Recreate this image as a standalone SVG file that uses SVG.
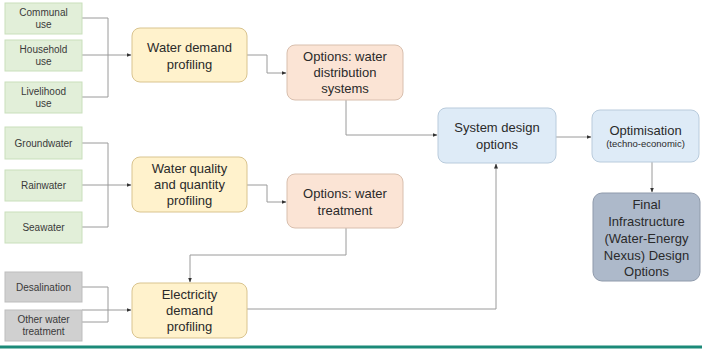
<svg xmlns="http://www.w3.org/2000/svg" width="702" height="350" viewBox="0 0 702 350">
<defs>
<marker id="arr" viewBox="0 0 10 10" refX="9" refY="5" markerWidth="5" markerHeight="5" markerUnits="userSpaceOnUse" orient="auto">
<path d="M0,1 L10,5 L0,9 Z" fill="#333"/>
</marker>
</defs>
<style>
.src{fill:#e2efd9;stroke:#c9dfbb;stroke-width:1}
.gry{fill:#d0d0d0;stroke:#bdbdbd;stroke-width:1}
.yel{fill:#fff2cc;stroke:#d9c48f;stroke-width:1}
.pch{fill:#fbe4d5;stroke:#d8bfae;stroke-width:1}
.blu{fill:#deebf7;stroke:#b9cbdc;stroke-width:1}
.fin{fill:#adb9ca;stroke:#8f9aab;stroke-width:1}
.s{font-family:"Liberation Sans",Arial,sans-serif;font-size:10px;fill:#3a3a3a;text-anchor:middle}
.m{font-family:"Liberation Sans",Arial,sans-serif;font-size:13px;fill:#2a2a2a;text-anchor:middle}
.t{font-family:"Liberation Sans",Arial,sans-serif;font-size:9.5px;fill:#2a2a2a;text-anchor:middle}
.c{fill:none;stroke:#9a9a9a;stroke-width:1}
.ca{fill:none;stroke:#9a9a9a;stroke-width:1;marker-end:url(#arr)}
</style>
<g id="connectors">
<path class="c" d="M82,18 H108 V97 H82"/>
<path class="ca" d="M82,55 H131"/>
<path class="c" d="M82,143 H108 V227 H82"/>
<path class="ca" d="M82,185 H131"/>
<path class="c" d="M82,287 H108 V322 H82"/>
<path class="ca" d="M82,310 H131"/>
<path class="ca" d="M247,55 H267 V73 H286"/>
<path class="ca" d="M247,185 H267 V202 H286"/>
<path class="ca" d="M346,100 V135 H437"/>
<path class="ca" d="M346,228 V255 H190 V282"/>
<path class="ca" d="M247,309 H496 V164"/>
<path class="ca" d="M556,137 H591"/>
<path class="ca" d="M652,162 V192"/>
</g>
<g id="communal"><rect class="src" x="5" y="3" width="77" height="31"/><text class="s" x="43.5" y="16">Communal</text><text class="s" x="43.5" y="28">use</text></g>
<g id="household"><rect class="src" x="5" y="40" width="77" height="31"/><text class="s" x="43.5" y="53">Household</text><text class="s" x="43.5" y="65">use</text></g>
<g id="livelihood"><rect class="src" x="5" y="82" width="77" height="31"/><text class="s" x="43.5" y="95">Livelihood</text><text class="s" x="43.5" y="107">use</text></g>
<g id="groundwater"><rect class="src" x="5" y="127" width="77" height="32"/><text class="s" x="43.5" y="146.5">Groundwater</text></g>
<g id="rainwater"><rect class="src" x="5" y="170" width="77" height="31"/><text class="s" x="43.5" y="189">Rainwater</text></g>
<g id="seawater"><rect class="src" x="5" y="212" width="77" height="31"/><text class="s" x="43.5" y="231">Seawater</text></g>
<g id="desalination"><rect class="gry" x="5" y="272" width="77" height="30"/><text class="s" x="43.5" y="290.5">Desalination</text></g>
<g id="otherwt"><rect class="gry" x="5" y="310" width="77" height="31"/><text class="s" x="43.5" y="323">Other water</text><text class="s" x="43.5" y="335">treatment</text></g>
<g id="waterdemand"><rect class="yel" x="132" y="28" width="115" height="54" rx="8"/><text class="m" x="189.5" y="52">Water demand</text><text class="m" x="189.5" y="69">profiling</text></g>
<g id="waterquality"><rect class="yel" x="132" y="157" width="115" height="55" rx="8"/><text class="m" x="189.5" y="173">Water quality</text><text class="m" x="189.5" y="189">and quantity</text><text class="m" x="189.5" y="205">profiling</text></g>
<g id="electricity"><rect class="yel" x="132" y="283" width="115" height="55" rx="8"/><text class="m" x="189.5" y="299">Electricity</text><text class="m" x="189.5" y="315">demand</text><text class="m" x="189.5" y="331">profiling</text></g>
<g id="optdist"><rect class="pch" x="287" y="45" width="116" height="55" rx="8"/><text class="m" x="345" y="61">Options: water</text><text class="m" x="345" y="77">distribution</text><text class="m" x="345" y="93">systems</text></g>
<g id="opttreat"><rect class="pch" x="287" y="174" width="116" height="54" rx="8"/><text class="m" x="345" y="198">Options: water</text><text class="m" x="345" y="215">treatment</text></g>
<g id="sysdesign"><rect class="blu" x="438" y="108" width="118" height="55" rx="8"/><text class="m" x="497" y="132">System design</text><text class="m" x="497" y="149">options</text></g>
<g id="optimisation"><rect class="blu" x="592" y="110" width="107" height="52" rx="8"/><text class="m" x="645.5" y="135">Optimisation</text><text class="t" x="645.5" y="147">(techno-economic)</text></g>
<g id="final"><rect class="fin" x="593" y="193" width="107" height="88" rx="9"/><text class="m" x="646.5" y="209">Final</text><text class="m" x="646.5" y="226">Infrastructure</text><text class="m" x="646.5" y="243">(Water-Energy</text><text class="m" x="646.5" y="260">Nexus) Design</text><text class="m" x="646.5" y="276">Options</text></g>
<rect x="0" y="345.5" width="702" height="3" fill="#1b8a78"/>
</svg>
